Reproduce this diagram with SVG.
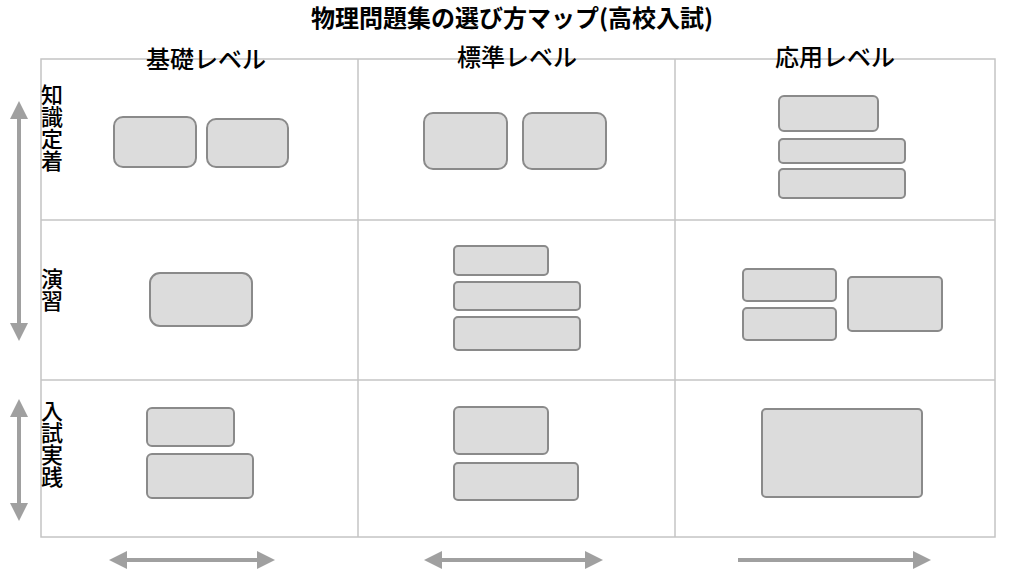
<svg xmlns="http://www.w3.org/2000/svg" width="1024" height="577" viewBox="0 0 1024 577">
<style>
.t{font-family:"Noto Sans CJK JP","Noto Sans",sans-serif;fill:#000}
.v{writing-mode:vertical-rl;font-size:22px;font-weight:500}
.b{fill:#dcdcdc;stroke:#8a8a8a;stroke-width:2}
.g{fill:none;stroke:#c4c4c4;stroke-width:1.5}
.a{stroke:#a0a0a0;stroke-width:4;fill:none}
</style>
<defs>
<marker id="h" viewBox="0 0 10 10" refX="5" refY="5" markerWidth="4.5" markerHeight="4.5" orient="auto-start-reverse"><path d="M0,0L10,5L0,10z" fill="#a0a0a0"/></marker>
</defs>
<rect width="1024" height="577" fill="#fff"/>
<text class="t" x="512" y="27" font-size="24" font-weight="bold" text-anchor="middle">物理問題集の選び方マップ(高校入試)</text>
<g id="grid">
<rect class="g" x="41" y="59" width="954" height="478"/>
<line class="g" x1="358" y1="59" x2="358" y2="537"/>
<line class="g" x1="675" y1="59" x2="675" y2="537"/>
<line class="g" x1="41" y1="220" x2="995" y2="220"/>
<line class="g" x1="41" y1="380" x2="995" y2="380"/>
</g>
<g id="headers" font-size="24" font-weight="500">
<text class="t" x="206" y="68" text-anchor="middle">基礎レベル</text>
<text class="t" x="517" y="66" text-anchor="middle">標準レベル</text>
<text class="t" x="835" y="66" text-anchor="middle">応用レベル</text>
</g>
<g id="rowlabels">
<text class="t v" x="52" y="84">知識定着</text>
<text class="t v" x="52" y="268">演習</text>
<text class="t v" x="52" y="400">入試実践</text>
</g>
<g id="connectors">
<line class="a" x1="19" y1="110" x2="19" y2="332" marker-start="url(#h)" marker-end="url(#h)"/>
<line class="a" x1="19" y1="408" x2="19" y2="512" marker-start="url(#h)" marker-end="url(#h)"/>
<line class="a" x1="118" y1="560" x2="266" y2="560" marker-start="url(#h)" marker-end="url(#h)"/>
<line class="a" x1="433" y1="560" x2="594" y2="560" marker-start="url(#h)" marker-end="url(#h)"/>
<line class="a" x1="738" y1="560" x2="922" y2="560" marker-end="url(#h)"/>
</g>
<g id="n1"><rect class="b" x="114" y="117" width="82" height="50" rx="9"/><rect class="b" x="207" y="119" width="81" height="48" rx="9"/></g>
<g id="n2"><rect class="b" x="424" y="113" width="83" height="56" rx="9"/><rect class="b" x="523" y="113" width="83" height="56" rx="9"/></g>
<g id="n3"><rect class="b" x="779" y="96" width="99" height="35" rx="5"/><rect class="b" x="779" y="139" width="126" height="24" rx="4"/><rect class="b" x="779" y="169" width="126" height="29" rx="4"/></g>
<g id="n4"><rect class="b" x="150" y="273" width="102" height="53" rx="10"/></g>
<g id="n5"><rect class="b" x="454" y="246" width="94" height="29" rx="4"/><rect class="b" x="454" y="282" width="126" height="28" rx="4"/><rect class="b" x="454" y="317" width="126" height="33" rx="4"/></g>
<g id="n6"><rect class="b" x="743" y="269" width="93" height="32" rx="4"/><rect class="b" x="743" y="308" width="93" height="32" rx="4"/><rect class="b" x="848" y="277" width="94" height="54" rx="4"/></g>
<g id="n7"><rect class="b" x="147" y="408" width="87" height="38" rx="5"/><rect class="b" x="147" y="454" width="106" height="44" rx="5"/></g>
<g id="n8"><rect class="b" x="454" y="407" width="94" height="47" rx="5"/><rect class="b" x="454" y="463" width="124" height="37" rx="4"/></g>
<g id="n9"><rect class="b" x="762" y="409" width="160" height="88" rx="4"/></g>
</svg>
